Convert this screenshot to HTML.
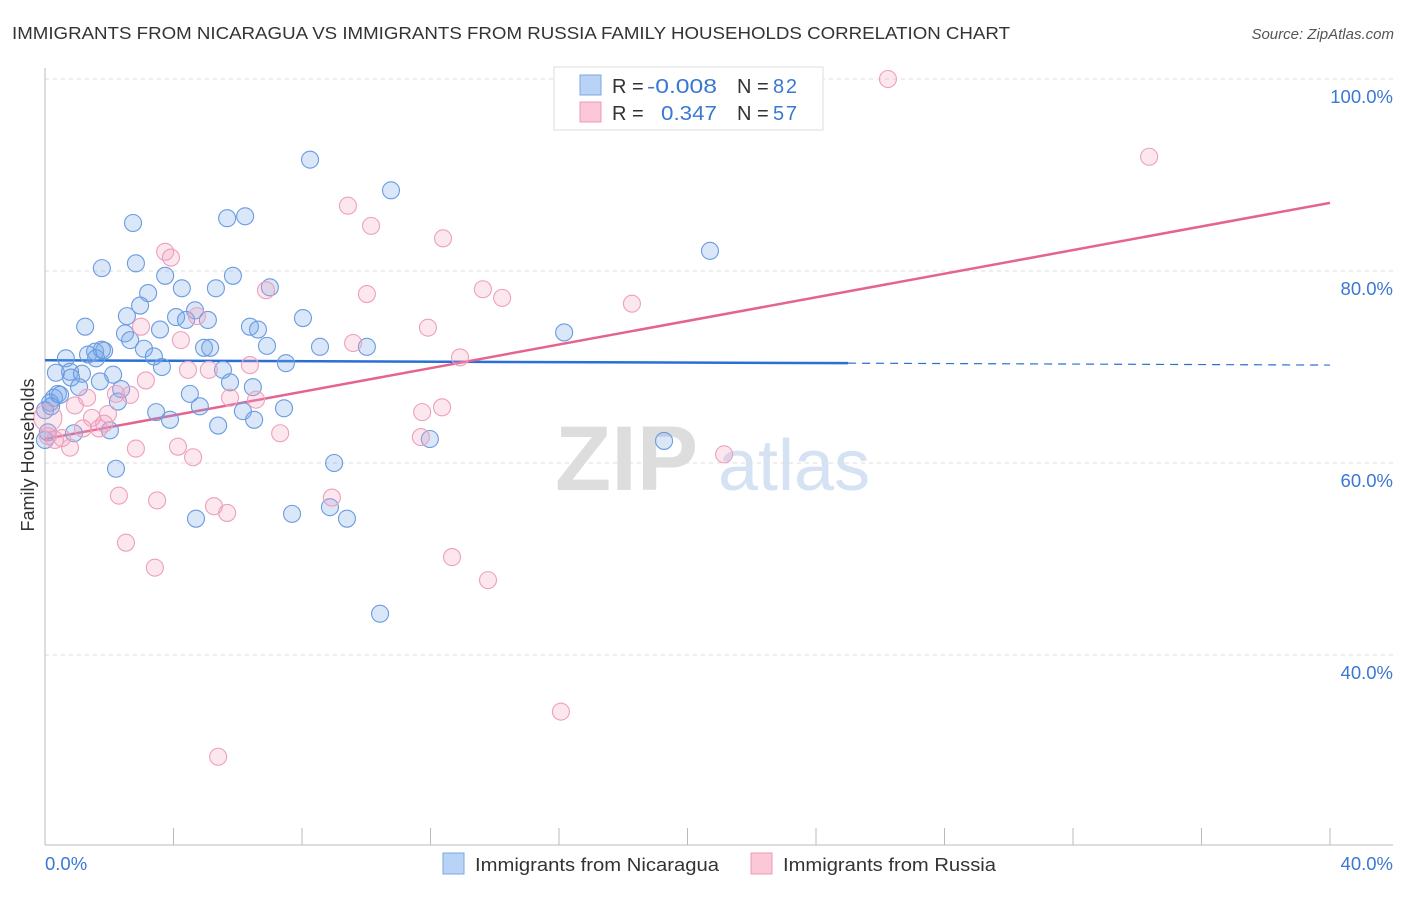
<!DOCTYPE html>
<html><head><meta charset="utf-8"><style>
body{margin:0;background:#fff;font-family:"Liberation Sans",sans-serif;}
svg text{font-family:"Liberation Sans",sans-serif;}
</style></head><body>
<svg id="chart" width="1406" height="892" viewBox="0 0 1406 892" xmlns="http://www.w3.org/2000/svg">
<text x="12" y="39" font-size="17.5" fill="#333" textLength="998" lengthAdjust="spacingAndGlyphs">IMMIGRANTS FROM NICARAGUA VS IMMIGRANTS FROM RUSSIA FAMILY HOUSEHOLDS CORRELATION CHART</text>
<text x="1394" y="39" font-size="15" fill="#555" font-style="italic" text-anchor="end">Source: ZipAtlas.com</text>
<g>
<text x="555" y="490" font-size="92" fill="#ddd" font-family="Liberation Serif" font-weight="bold">ZIP</text>
<text x="718" y="490" font-size="72" fill="#d4e2f4">atlas</text>
</g>
<g id="grid"></g>
<g id="axes"></g>
<g id="trends"></g>
<g id="points"></g>
<text transform="translate(34,455) rotate(-90)" font-size="18" fill="#333" text-anchor="middle">Family Households</text>
<g>
<rect x="554" y="67" width="269" height="63" fill="#fff" stroke="#ddd"/>
<rect x="580" y="75" width="21" height="20" fill="#b8d3f5" stroke="#7aa8e6"/>
<rect x="580" y="102" width="21" height="20" fill="#fcc8d8" stroke="#eb9ab5"/>
<text x="612" y="93" font-size="20" fill="#333">R = </text><text x="647" y="93" font-size="20" fill="#3a78d4" textLength="70" lengthAdjust="spacingAndGlyphs">-0.008</text>
<text x="737" y="93" font-size="20" fill="#333">N = </text><text x="773" y="93" font-size="20" fill="#3a78d4" textLength="24">82</text>
<text x="612" y="120" font-size="20" fill="#333">R = </text><text x="661" y="120" font-size="20" fill="#3a78d4" textLength="56" lengthAdjust="spacingAndGlyphs">0.347</text>
<text x="737" y="120" font-size="20" fill="#333">N = </text><text x="773" y="120" font-size="20" fill="#3a78d4" textLength="24">57</text>
</g>
<g>
<rect x="443" y="853" width="21" height="21" fill="#b8d3f5" stroke="#7aa8e6"/>
<text x="475" y="871" font-size="18.5" fill="#333" textLength="244" lengthAdjust="spacingAndGlyphs">Immigrants from Nicaragua</text>
<rect x="751" y="853" width="21" height="21" fill="#fcc8d8" stroke="#eb9ab5"/>
<text x="783" y="871" font-size="18.5" fill="#333" textLength="213" lengthAdjust="spacingAndGlyphs">Immigrants from Russia</text>
</g>
</svg>
<script>
const blueX=[8.25,10.77,2.74,5.67,6.23,1.77,2.83,3.74,5.85,3.21,4.26,5.32,7.0,2.96,4.67,2.55,4.08,5.07,4.39,8.03,1.25,2.49,3.58,6.38,6.63,2.65,3.08,4.95,5.14,6.91,8.56,10.02,1.56,1.84,1.34,0.65,1.59,3.39,3.64,7.5,0.34,0.78,1.15,2.12,0.81,1.71,1.06,2.37,5.54,5.76,6.47,4.51,0.4,0.28,0.16,0.19,2.27,4.82,3.46,3.89,6.16,7.44,5.39,6.51,2.02,0.9,11.98,16.16,20.7,19.27,2.21,9.0,4.7,7.69,8.87,9.4,10.43,0.47,1.77,0.0,0.09,0.0];
const blueY=[91.6,88.4,85.0,85.5,85.7,80.3,80.8,79.5,79.5,77.7,78.2,78.2,78.3,76.4,75.9,75.3,75.2,74.9,74.9,75.1,74.2,73.5,73.9,74.2,73.9,72.8,71.9,72.0,72.0,72.2,72.1,72.1,71.6,71.7,71.3,70.9,70.9,71.1,70.0,70.4,69.4,69.5,69.3,69.2,68.9,68.5,67.9,67.7,69.7,68.4,67.9,67.2,67.2,66.8,66.3,65.9,66.4,65.9,65.3,64.5,65.4,65.7,63.9,64.5,63.4,63.1,62.5,73.6,82.1,62.3,59.4,60.0,54.2,54.7,55.4,54.2,44.3,67.1,71.8,65.5,63.2,62.4];
const pinkX=[26.24,34.37,9.43,10.15,12.39,3.74,3.92,6.88,10.02,13.63,14.23,18.27,4.73,2.99,11.92,4.23,9.59,12.92,6.38,4.45,3.14,5.1,5.76,6.57,2.21,2.65,1.31,0.93,12.36,11.74,1.96,1.46,1.84,1.68,1.18,0.53,0.09,0.31,0.78,7.32,11.7,2.83,4.14,4.61,21.14,2.3,3.49,5.26,5.67,8.93,2.52,12.67,3.42,13.79,16.06,5.39,0.09];
const pinkY=[100.0,91.9,86.8,84.7,83.4,82.0,81.4,78.0,77.6,78.1,77.2,76.6,75.3,74.2,74.1,72.8,72.5,71.0,70.2,69.7,68.6,69.7,66.8,66.6,67.2,67.1,66.8,66.0,65.8,65.3,65.1,64.7,64.1,63.6,63.6,62.6,62.8,62.4,61.6,63.1,62.7,61.5,61.7,60.6,60.9,56.6,56.1,55.5,54.8,56.4,51.7,50.2,49.1,47.8,34.1,29.4,64.7];
const yTicks=[100,80,60,40];
const yTickLabels=["100.0%","80.0%","60.0%","40.0%"];
const blueTrend=[70.7,70.4,70.2]; // at x=0, 25, 40
const pinkTrend=[62.5,87.1]; // at x=0, 40

const NS="http://www.w3.org/2000/svg";
const X=v=>45+v*(1285/40);
const Y=v=>79+(100-v)*9.6;
function mk(parent,tag,attrs){const e=document.createElementNS(NS,tag);for(const k in attrs)e.setAttribute(k,attrs[k]);parent.appendChild(e);return e;}
const grid=document.getElementById('grid'),axes=document.getElementById('axes'),trends=document.getElementById('trends'),pts=document.getElementById('points');
yTicks.forEach((t,i)=>{
  const l=mk(grid,'line',{x1:45,x2:1393,y1:Y(t),y2:Y(t),stroke:'#ddd','stroke-dasharray':'4,4'});
  
  
  const tx=mk(axes,'text',{x:1393,y:Y(t)+24,'font-size':18.5,fill:'#3a78d4','text-anchor':'end'});
  tx.textContent=yTickLabels[i];
  
  
});
const ax=mk(axes,'line',{x1:45,x2:1393,y1:845,y2:845,stroke:'#bbb'});


const ay=mk(axes,'line',{x1:45,x2:45,y1:68,y2:845,stroke:'#bbb'});


for(let v=4;v<=40;v+=4){
  const tk=mk(axes,'line',{x1:X(v),x2:X(v),y1:828,y2:845,stroke:'#bbb'});
  
  
}
const xl0=mk(axes,'text',{x:45,y:870,'font-size':18.5,fill:'#3a78d4'});xl0.textContent='0.0%';


const xl1=mk(axes,'text',{x:1393,y:870,'font-size':18.5,fill:'#3a78d4','text-anchor':'end'});xl1.textContent='40.0%';



function dot(x,y,fill,stroke,r){const c=mk(pts,'circle',{cx:X(x),cy:Y(y),r:r,fill:fill,stroke:stroke,'stroke-width':1.1});return c;}
blueX.forEach((x,i)=>{const c=dot(x,blueY[i],'rgba(120,170,235,0.28)','#6b9be0',8.5);
  
  });
pinkX.forEach((x,i)=>{const c=dot(x,pinkY[i],'rgba(245,160,190,0.25)','#eda0bb',i===pinkX.length-1?14:8.5);
  
  });

const b1=mk(trends,'line',{x1:X(0),y1:Y(blueTrend[0]),x2:X(25),y2:Y(blueTrend[1]),stroke:'#2a6fd6','stroke-width':2.5});


const b2=mk(trends,'line',{x1:X(25),y1:Y(blueTrend[1]),x2:X(40),y2:Y(blueTrend[2]),stroke:'#2a6fd6','stroke-width':1.2,'stroke-dasharray':'8,6'});


const p1=mk(trends,'line',{x1:X(0),y1:Y(pinkTrend[0]),x2:X(40),y2:Y(pinkTrend[1]),stroke:'#e4648f','stroke-width':2.5});


</script>
</body></html>
